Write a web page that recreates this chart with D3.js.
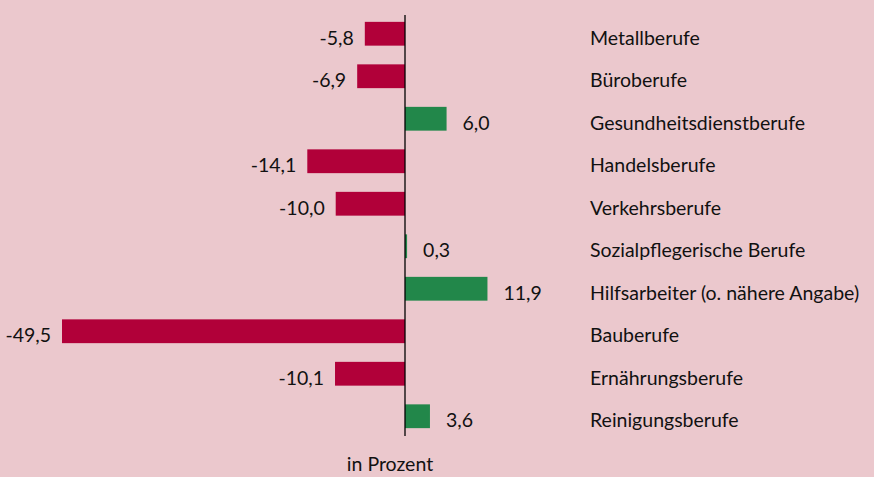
<!DOCTYPE html>
<html>
<head>
<meta charset="utf-8">
<script src="https://cdn.jsdelivr.net/npm/d3@7"></script>
<style>
  body { margin: 0; background: #ebc8cd; }
  svg { display: block; }
  text { font-family: Lato, "Open Sans", sans-serif; fill: #111; }
</style>
</head>
<body>
<div id="chart"></div>
<script>
// Berufsgruppen und Veränderung in Prozent
const categories = [
    "Metallberufe",
    "Büroberufe",
    "Gesundheitsdienstberufe",
    "Handelsberufe",
    "Verkehrsberufe",
    "Sozialpflegerische Berufe",
    "Hilfsarbeiter (o. nähere Angabe)",
    "Bauberufe",
    "Ernährungsberufe",
    "Reinigungsberufe"
];
const values = [-5.8, -6.9, 6.0, -14.1, -10.0, 0.3, 11.9, -49.5, -10.1, 3.6];
const axisLabel = "in Prozent";

const data = categories.map((c, i) => ({ name: c, value: values[i] }));

const width = 874, height = 477;

const svg = d3.select("#chart")
    .append("svg")
    .attr("width", width)
    .attr("height", height);

// x scale: -49,5 -> 62px, 0 -> 405px
const x = d3.scaleLinear()
    .domain([-49.5, 0])
    .range([62, 405]);

const y = d3.scaleBand()
    .domain(categories)
    .range([12.5, 437.5])
    .paddingInner(0.44)
    .paddingOuter(0.22);

const fmt = v => d3.format(".1f")(v).replace(".", ",").replace("−", "-");

// bars
svg.selectAll("rect.bar")
    .data(data)
    .join("rect")
    .attr("class", "bar")
    .attr("x", d => x(Math.min(0, d.value)))
    .attr("y", d => y(d.name))
    .attr("width", d => Math.abs(x(d.value) - x(0)))
    .attr("height", y.bandwidth())
    .attr("fill", d => d.value < 0 ? "#b10039" : "#22874a");

// zero line
svg.append("line")
    .attr("x1", x(0)).attr("x2", x(0))
    .attr("y1", 15).attr("y2", 436)
    .attr("stroke", "#000")
    .attr("stroke-width", 1.3);

// value labels
svg.selectAll("text.val")
    .data(data)
    .join("text")
    .attr("class", "val")
    .attr("x", d => d.value < 0 ? x(d.value) - 11 : x(d.value) + 16)
    .attr("y", d => y(d.name) + y.bandwidth() / 2 + 11)
    .attr("text-anchor", d => d.value < 0 ? "end" : "start")
    .style("font-size", "19.5px")
    .text(d => fmt(d.value));

// category labels
svg.selectAll("text.cat")
    .data(data)
    .join("text")
    .attr("class", "cat")
    .attr("x", 590)
    .attr("y", d => y(d.name) + y.bandwidth() / 2 + 11)
    .style("font-size", "19.5px")
    .text(d => d.name);

// axis title
svg.append("text")
    .attr("x", 390)
    .attr("y", 471)
    .attr("text-anchor", "middle")
    .style("font-size", "19.5px")
    .text(axisLabel);
</script>
</body>
</html>
